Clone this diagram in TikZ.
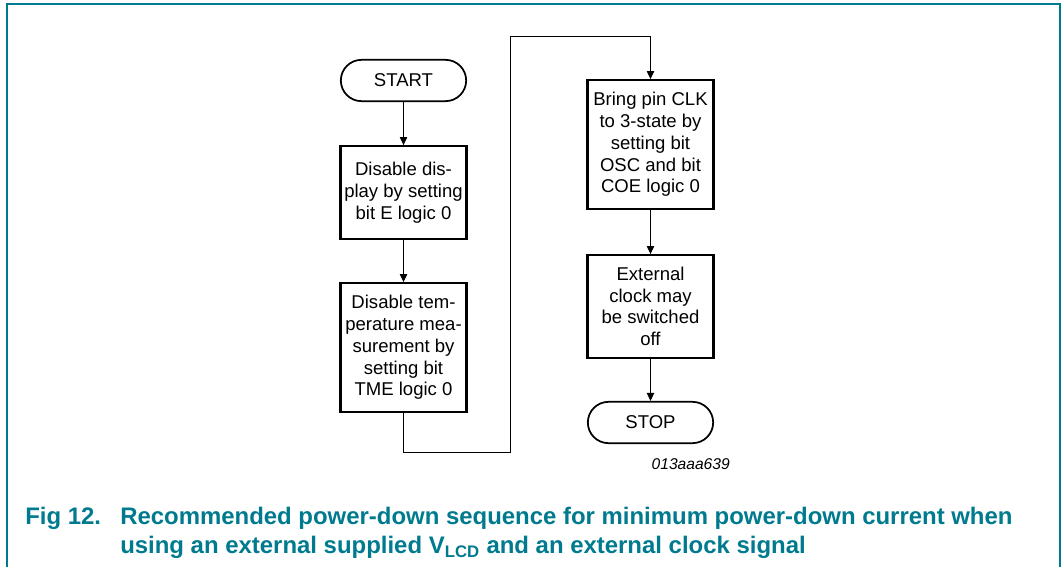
\documentclass[tikz,border=0pt]{standalone}
\usepackage{fontspec}
\setmainfont{Liberation Sans}
\usetikzlibrary{arrows.meta}
\definecolor{nxpteal}{RGB}{0,122,142}
\tikzset{
	process/.style={draw, line width=1.6pt, minimum width=94.5pt, align=center, inner sep=0pt,
		font=\fontsize{13.9}{16.3}\selectfont},
	terminal/.style={draw, line width=1.3pt, rounded corners=15.5pt, minimum width=94pt,
		minimum height=31pt, inner sep=0pt, font=\fontsize{13.9}{16.3}\selectfont},
	flow/.style={line width=0.75pt, -{Triangle[length=6pt,width=5.5pt]}},
	caption/.style={anchor=base west, inner sep=0pt, text=nxpteal,
		font=\fontsize{17.95}{21}\selectfont\bfseries},
}
\begin{document}
\begin{tikzpicture}[x=0.75pt, y=-0.75pt]
	\useasboundingbox (0,0) rectangle (1063,567);
	% frame round the figure
	\draw[nxpteal, line width=1.5pt] (7.3,567) -- (7.3,4.3) -- (1059.5,4.3) -- (1059.5,567);
	
	% left column
	\node[terminal] (start) at (403.5,80.5) {START};
	\node[process, minimum height=69.5pt] (disdisp) at (403.5,192.5) {Disable dis-\\play by setting\\bit E logic 0};
	\node[process, minimum height=96.5pt] (distemp) at (403.5,347.5) {Disable tem-\\perature mea-\\surement by\\setting bit\\TME logic 0};
	
	% right column
	\node[process, minimum height=96.5pt] (clkoff) at (650.5,144.5) {Bring pin CLK\\to 3-state by\\setting bit\\OSC and bit\\COE logic 0};
	\node[process, minimum height=77pt] (extclk) at (650.5,306.5) {External\\clock may\\be switched\\off};
	\node[terminal] (stop) at (650.5,422.5) {STOP};
	
	\node[anchor=east, inner sep=0pt, font=\fontsize{11.7}{14}\selectfont\itshape] (figid) at (730,464) {013aaa639};
	
	\draw[flow] (start) -- (disdisp);
	\draw[flow] (disdisp) -- (distemp);
	\coordinate (loopbot) at (510,452);
	\coordinate (looptop) at (510,36.7);
	\draw[flow] (distemp.south) |- (loopbot) -- (looptop) -| (clkoff.north);
	\draw[flow] (clkoff) -- (extclk);
	\draw[flow] (extclk) -- (stop);
	
	% caption
	\node[caption] (fignum) at (25,524.5) {Fig 12.};
	\node[caption] (capone) at (120,524.5) {Recommended power-down sequence for minimum power-down current when};
	\node[caption] (captwo) at (120,553.5) {using an external supplied V\textsubscript{LCD} and an external clock signal};
\end{tikzpicture}
\end{document}
